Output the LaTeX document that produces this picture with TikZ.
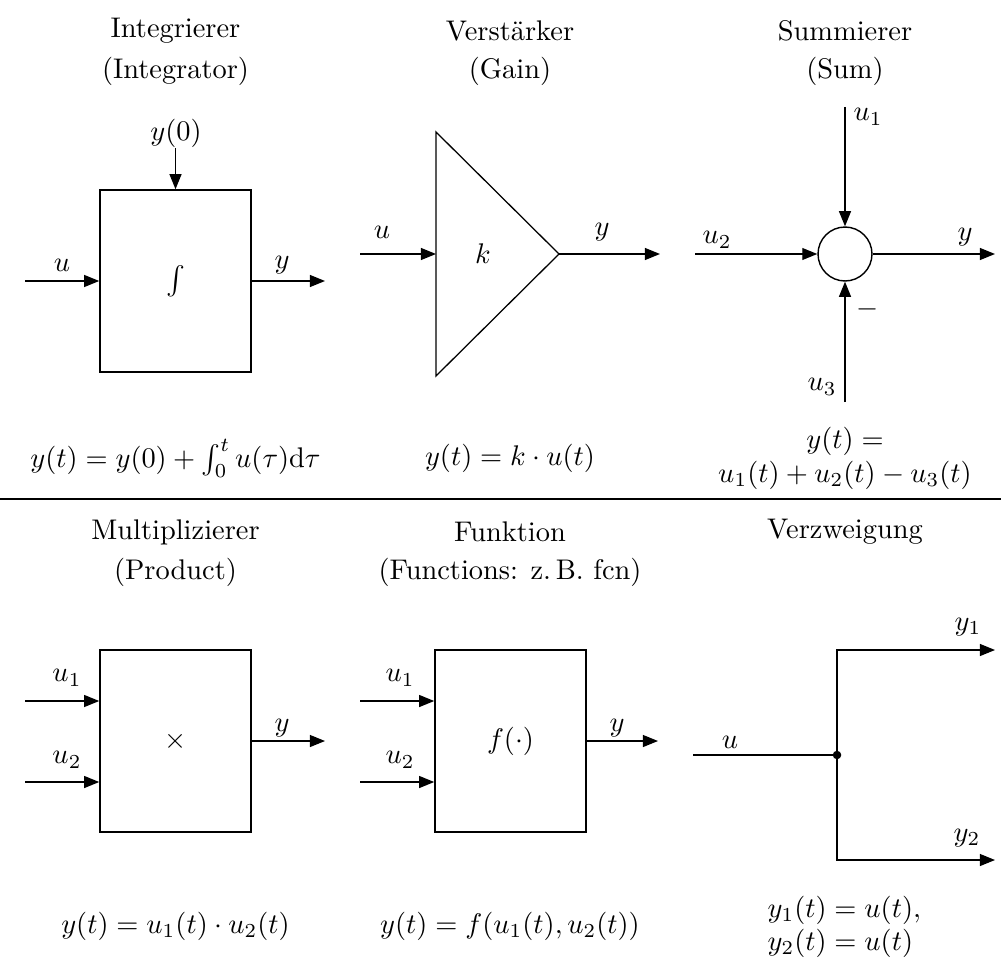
\documentclass[tikz,border=0pt]{standalone}
\usetikzlibrary{arrows.meta}
\begin{document}
\begin{tikzpicture}[x=0.352pt,y=-0.352pt,
  blockbox/.style={draw,line width=0.6pt,minimum width=53.1pt,minimum height=64pt,inner sep=0pt},
  sig/.style={line width=0.45pt,-{Triangle[length=5.3pt,width=4.2pt]}},
  wire/.style={line width=0.45pt},
  lbl/.style={inner sep=0pt},
  sumcirc/.style={draw,circle,line width=0.5pt,minimum size=19pt,inner sep=0pt},
  junction/.style={fill,circle,minimum size=3pt,inner sep=0pt}]
\useasboundingbox (0,0) rectangle (1001,958);

% ---------- titles ----------
\node[lbl] (t1a) at (175.5,31) {Integrierer};
\node[lbl] (t1b) at (175.5,71) {(Integrator)};
\node[lbl] (t2a) at (510,31) {Verstärker};
\node[lbl] (t2b) at (510,71) {(Gain)};
\node[lbl] (t3a) at (845,31) {Summierer};
\node[lbl] (t3b) at (845,71) {(Sum)};
\node[lbl] (t4a) at (175.5,532) {Multiplizierer};
\node[lbl] (t4b) at (175.5,572) {(Product)};
\node[lbl] (t5a) at (510,532) {Funktion};
\node[lbl] (t5b) at (510,572) {(Functions: z.\,B. fcn)};
\node[lbl] (t6a) at (845,532) {Verzweigung};

% ---------- separator ----------
\coordinate (sepL) at (0,499);
\coordinate (sepR) at (1001,499);
\draw[line width=0.9pt] (sepL) -- (sepR);

% ---------- Integrator ----------
\node[blockbox] (int) at (175.5,281) {$\int$};
\coordinate (intu) at (25,281);
\coordinate (inty) at (325,281);
\node[lbl] (inty0) at (176,133) {$y(0)$};
\coordinate (inty0s) at (175.5,148);
\draw[sig] (intu) -- (int);
\draw[sig] (int) -- (inty);
\draw[sig] (inty0s) -- (int);
\node[lbl] (intul) at (62,265) {$u$};
\node[lbl] (intyl) at (282,265) {$y$};
\node[lbl] (inteq) at (175.5,458) {$y(t) = y(0) + \int_0^t u(\tau)\mathrm{d}\tau$};

% ---------- Gain ----------
\coordinate (gA) at (436,132);
\coordinate (gB) at (436,376);
\coordinate (gC) at (559,254);
\coordinate (gIn) at (436,254);
\draw[line width=0.45pt] (gA) -- (gC) -- (gB) -- cycle;
\node[lbl] (gk) at (483,254) {$k$};
\coordinate (gu) at (360,254);
\coordinate (gy) at (660,254);
\draw[sig] (gu) -- (gIn);
\draw[sig] (gC) -- (gy);
\node[lbl] (gul) at (382,232) {$u$};
\node[lbl] (gyl) at (602,232) {$y$};
\node[lbl] (geq) at (510,458) {$y(t) = k \cdot u(t)$};

% ---------- Sum ----------
\node[sumcirc] (sum) at (845,254) {};
\coordinate (su1) at (845,107);
\coordinate (su2) at (695,254);
\coordinate (su3) at (845,402);
\coordinate (sy) at (995,254);
\draw[sig] (su1) -- (sum);
\draw[sig] (su2) -- (sum);
\draw[sig] (su3) -- (sum);
\draw[sig] (sum) -- (sy);
\node[lbl] (su1l) at (868,117) {$u_1$};
\node[lbl] (su2l) at (717,240) {$u_2$};
\node[lbl] (su3l) at (822,387) {$u_3$};
\node[lbl] (syl) at (965,237) {$y$};
\node[lbl] (sminus) at (868,309) {$-$};
\node[lbl] (seq1) at (845,441) {$y(t) =$};
\node[lbl] (seq2) at (845,475) {$u_1(t) + u_2(t) - u_3(t)$};

% ---------- Product ----------
\node[blockbox] (prod) at (175.5,741) {$\times$};
\coordinate (pu1) at (25,701);
\coordinate (pu2) at (25,782);
\coordinate (py) at (325,741);
\draw[sig] (pu1) -- (pu1 -| prod.west);
\draw[sig] (pu2) -- (pu2 -| prod.west);
\draw[sig] (prod) -- (py);
\node[lbl] (pu1l) at (67,678) {$u_1$};
\node[lbl] (pu2l) at (67,760) {$u_2$};
\node[lbl] (pyl) at (282,728) {$y$};
\node[lbl] (peq) at (175.5,926) {$y(t) = u_1(t) \cdot u_2(t)$};

% ---------- Function ----------
\node[blockbox] (fcn) at (510.5,741) {$f(\cdot)$};
\coordinate (fu1) at (360,701);
\coordinate (fu2) at (360,782);
\coordinate (fy) at (658,741);
\draw[sig] (fu1) -- (fu1 -| fcn.west);
\draw[sig] (fu2) -- (fu2 -| fcn.west);
\draw[sig] (fcn) -- (fy);
\node[lbl] (fu1l) at (400,678) {$u_1$};
\node[lbl] (fu2l) at (400,760) {$u_2$};
\node[lbl] (fyl) at (617,728) {$y$};
\node[lbl] (feq) at (510,926) {$y(t) = f(u_1(t), u_2(t))$};

% ---------- Branch ----------
\node[junction] (bdot) at (837,755) {};
\coordinate (bu) at (693,755);
\coordinate (bT) at (837,650);
\coordinate (bB) at (837,860);
\coordinate (by1) at (995,650);
\coordinate (by2) at (995,860);
\draw[wire] (bu) -- (bdot.center);
\draw[sig] (bdot.center) -- (bT) -- (by1);
\draw[sig] (bdot.center) -- (bB) -- (by2);
\node[lbl] (bul) at (730,742) {$u$};
\node[lbl] (by1l) at (968,627) {$y_1$};
\node[lbl] (by2l) at (967,838) {$y_2$};
\node[lbl,anchor=west] (beq1) at (767,910) {$y_1(t) = u(t),$};
\node[lbl,anchor=west] (beq2) at (767,943) {$y_2(t) = u(t)$};
\end{tikzpicture}
\end{document}
